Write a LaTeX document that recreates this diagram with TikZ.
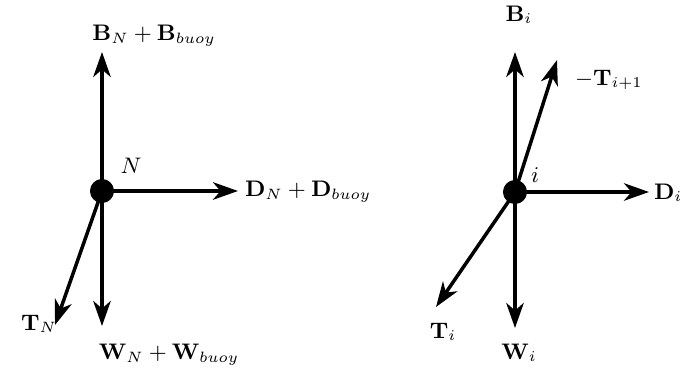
\documentclass[tikz,border=0pt]{standalone}
\usetikzlibrary{arrows.meta}
\begin{document}
\begin{tikzpicture}[x=0.4pt,y=-0.4pt,
  force/.style={line width=1.4pt,-{Stealth[length=10pt,width=7pt,inset=3pt]}},
  joint/.style={circle,fill=black,inner sep=0pt,minimum size=9.5pt},
  lbl/.style={inner sep=1pt,font=\fontsize{9}{11}\selectfont}]
\useasboundingbox (0,0) rectangle (688,379);
% left diagram
\node[joint] (N) at (102,191) {};
\coordinate (NB) at (102,52);
\coordinate (ND) at (238,191);
\coordinate (NW) at (102,326);
\coordinate (NT) at (55,325);
\draw[force] (N.center) -- (NB);
\draw[force] (N.center) -- (ND);
\draw[force] (N.center) -- (NW);
\draw[force] (N.center) -- (NT);
\node[joint] at (N) {};
\node[lbl] (lB) at (154,36) {$\mathbf{B}_N+\mathbf{B}_{buoy}$};
\node[lbl] (lN) at (131,166) {$N$};
\node[lbl,anchor=west] (lD) at (242,192) {$\mathbf{D}_N+\mathbf{D}_{buoy}$};
\node[lbl] (lT) at (39,324) {$\mathbf{T}_N$};
\node[lbl] (lW) at (169,355) {$\mathbf{W}_N+\mathbf{W}_{buoy}$};
% right diagram
\node[joint] (I) at (515,192) {};
\coordinate (IB) at (515,52);
\coordinate (IT1) at (557,60);
\coordinate (ID) at (649,192);
\coordinate (IT) at (436,307);
\coordinate (IW) at (515,328);
\draw[force] (I.center) -- (IB);
\draw[force] (I.center) -- (IT1);
\draw[force] (I.center) -- (ID);
\draw[force] (I.center) -- (IT);
\draw[force] (I.center) -- (IW);
\node[joint] at (I) {};
\node[lbl] (rB) at (519,15) {$\mathbf{B}_i$};
\node[lbl] (rT1) at (609,80) {$-\mathbf{T}_{i+1}$};
\node[lbl] (ri) at (535,175) {$i$};
\node[lbl,anchor=west] (rD) at (651,193) {$\mathbf{D}_i$};
\node[lbl] (rT) at (443,332) {$\mathbf{T}_i$};
\node[lbl] (rW) at (519,353) {$\mathbf{W}_i$};
\end{tikzpicture}
\end{document}
